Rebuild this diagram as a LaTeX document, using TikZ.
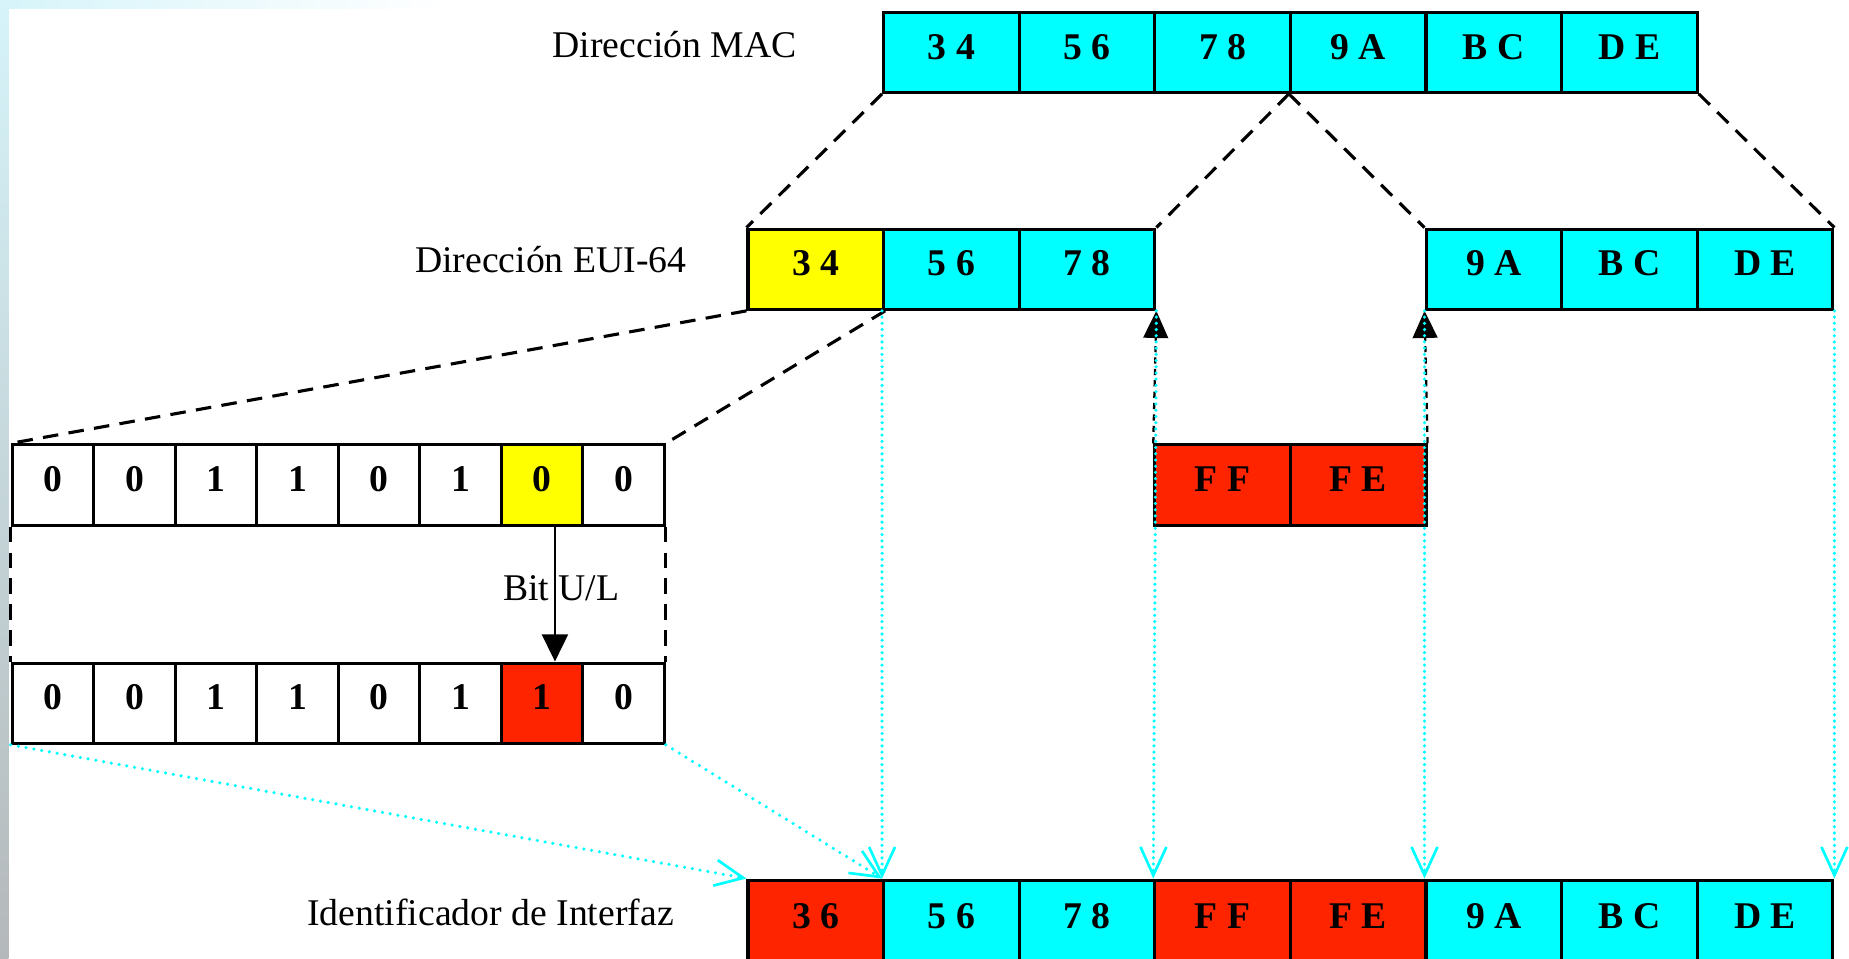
\documentclass[tikz,border=0pt]{standalone}
\usepackage{fontspec}
\setmainfont{Liberation Serif}
\usetikzlibrary{arrows.meta,calc}
\definecolor{cyanc}{RGB}{0,255,255}
\definecolor{yell}{RGB}{255,255,0}
\definecolor{redc}{RGB}{255,36,0}
\definecolor{bgtop}{RGB}{214,244,250}
\definecolor{bgmid}{RGB}{196,221,242}
\definecolor{bgbot}{RGB}{180,184,186}
\begin{document}
\begin{tikzpicture}[x=0.02cm,y=-0.02cm,
  cell/.style={draw=black,line width=1.5pt,minimum width=2.3cm,minimum height=1.36cm,
    inner sep=0pt,anchor=north west,text height=0.45cm,text depth=0.22cm,
    font=\fontsize{18.2}{20}\selectfont\bfseries},
  bitcell/.style={cell,minimum width=1.3825cm},
  lastcell/.style={cell,minimum height=1.42cm},
  lbl/.style={font=\fontsize{18.2}{20}\selectfont,inner sep=0pt},
  zoomline/.style={draw=black,line width=1.5pt,dash pattern=on 7.5pt off 5pt},
  ffarrow/.style={draw=black,line width=1.1pt,dash pattern=on 3pt off 2.5pt,
    -{Triangle[length=0.46cm,width=0.42cm]}},
  ularrow/.style={draw=black,line width=1.1pt,-{Triangle[length=0.46cm,width=0.44cm]}},
  mapline/.style={draw=cyanc,line width=1.7pt,line cap=round,dash pattern=on 0pt off 3pt,
    -{Straight Barb[length=0.48cm,width=0.44cm,line width=1.3pt,line cap=butt]}},
  mapdiag/.style={mapline,dash pattern=on 0pt off 3.8pt}
]
\useasboundingbox (0,0) rectangle (1568,813);
\fill[white] (0,0) rectangle (1568,813);
% slide background
\shade[left color=bgtop,right color=white] (0,0) rectangle (380,7);
\shade[top color=bgtop,middle color=bgmid,bottom color=bgbot] (0,0) rectangle (7,813);

% labels
\node[lbl,anchor=base] (lmac) at (572,49) {Dirección MAC};
\node[lbl,anchor=base] (leui) at (467,231) {Dirección EUI-64};
\node[lbl,anchor=base] (liid) at (416,785) {Identificador de Interfaz};

% MAC address
\foreach \t [count=\i] in {3 4,5 6,7 8,9 A,B C,D E}
  \node[cell,fill=cyanc] (m\i) at ({748+115*(\i-1)},9) {\t};

% EUI-64
\node[cell,fill=yell]  (e1) at (633,193) {3 4};
\node[cell,fill=cyanc] (e2) at (748,193) {5 6};
\node[cell,fill=cyanc] (e3) at (863,193) {7 8};
\node[cell,fill=cyanc] (e4) at (1208,193) {9 A};
\node[cell,fill=cyanc] (e5) at (1323,193) {B C};
\node[cell,fill=cyanc] (e6) at (1438,193) {D E};

% bits
\foreach \t/\c [count=\i] in {0/white,0/white,1/white,1/white,0/white,1/white,0/yell,0/white}
  \node[bitcell,fill=\c] (b\i) at ({9+69.125*(\i-1)},376) {\t};
\foreach \t/\c [count=\i] in {0/white,0/white,1/white,1/white,0/white,1/white,1/redc,0/white}
  \node[bitcell,fill=\c] (c\i) at ({9+69.125*(\i-1)},561) {\t};

% FF FE
\node[cell,fill=redc] (f1) at (978,376) {F F};
\node[cell,fill=redc] (f2) at (1093,376) {F E};

% interface identifier
\foreach \t/\c [count=\i] in {3 6/redc,5 6/cyanc,7 8/cyanc,F F/redc,F E/redc,9 A/cyanc,B C/cyanc,D E/cyanc}
  \node[lastcell,fill=\c] (i\i) at ({633+115*(\i-1)},745) {\t};

% zoom lines
\draw[zoomline] (m1.south west) -- (e1.north west);
\draw[zoomline] (m4.south west) -- (e3.north east);
\draw[zoomline] (m4.south west) -- (e4.north west);
\draw[zoomline] (m6.south east) -- (e6.north east);
\draw[zoomline] (e1.south west) -- (b1.north west);
\draw[zoomline] (e1.south east) -- (b8.north east);
\draw[zoomline] (b1.south west) -- (c1.north west);
\draw[zoomline] (b8.south east) -- (c8.north east);

% U/L bit
\node[lbl,anchor=base] (ul) at (476,509) {Bit U/L};
\draw[ularrow] ([xshift=0.22cm]b7.south) -- ([xshift=0.22cm]c7.north);

% FF FE insertion
\draw[ffarrow] (f1.north west) -- (e3.south east);
\draw[ffarrow] (f2.north east) -- (e4.south west);

% mapping lines
\draw[mapline] (e2.south west) -- (i2.north west);
\draw[mapline] (e3.south east) -- (i4.north west);
\draw[mapline] (e4.south west) -- (i6.north west);
\draw[mapline] (e6.south east) -- (i8.north east);
\draw[mapdiag] (c1.south west) -- (i1.north west);
\draw[mapdiag] (c8.south east) -- (i2.north west);
\end{tikzpicture}
\end{document}
